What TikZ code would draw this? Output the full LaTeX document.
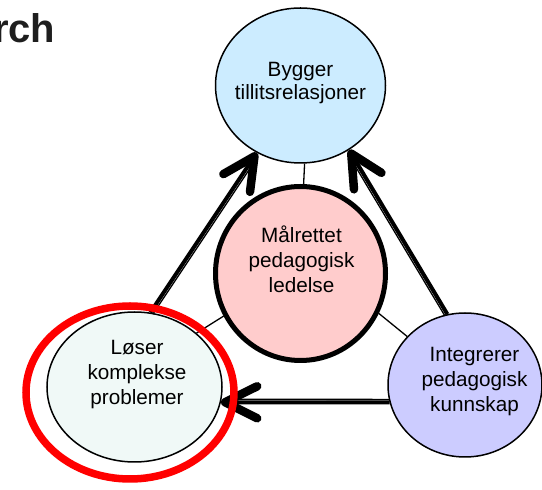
\documentclass[tikz,border=0pt]{standalone}
\usepackage{fontspec}
\setmainfont{Liberation Sans}
\usepackage{tikz}
\usetikzlibrary{shapes.geometric, arrows.meta, calc}

\definecolor{trustblue}{RGB}{204,236,255}
\definecolor{goalpink}{RGB}{255,204,204}
\definecolor{solvemint}{RGB}{240,249,247}
\definecolor{knowviolet}{RGB}{204,204,255}
\definecolor{headgray}{RGB}{30,30,30}

\tikzstyle{bubble} = [ellipse, draw=black, line width=1.5pt, inner sep=0pt]
\tikzstyle{goal} = [bubble, fill=goalpink, line width=5pt, minimum width=170pt, minimum height=174pt]
\tikzstyle{trust} = [bubble, fill=trustblue, minimum width=170pt, minimum height=155pt]
\tikzstyle{solve} = [bubble, fill=solvemint, minimum width=175pt, minimum height=150pt]
\tikzstyle{know} = [bubble, fill=knowviolet, minimum width=154pt, minimum height=144pt]
\tikzstyle{ring} = [ellipse, draw=red, line width=7.5pt, inner sep=0pt, minimum width=208pt, minimum height=173pt]
\tikzstyle{caption} = [align=center, inner sep=0pt, font=\fontsize{20.7}{25}\selectfont]
\tikzstyle{link} = [line width=1.3pt]
\tikzstyle{shaft} = [line width=4pt, -{Straight Barb[length=32pt, width=32pt, line width=8.5pt, round]}]
\tikzstyle{rail} = [line width=1.3pt, shorten >=16pt]

\begin{document}
\begin{tikzpicture}[node distance=188pt]
\useasboundingbox (0,0) rectangle (542pt,490pt);
\fill[white] (0,0) rectangle (542pt,490pt);

\node (head) [anchor=base east, inner sep=0pt, text=headgray, font=\fontsize{40}{48}\selectfont\bfseries] at (55.5pt,447.3pt) {rch};

% circles
\node (mal) [goal] at (300.5pt,216.5pt) {};
\node (byg) [trust, above of=mal] {};
\node (los) [solve, left of=mal, xshift=22pt, yshift=-113.5pt] {};
\node (int) [know, right of=mal, xshift=-23.5pt, yshift=-111.5pt] {};

\node (mal-text) [caption, xshift=1pt, yshift=14.3pt] at (mal) {Målrettet\\pedagogisk\\ledelse};
\node (byg-text) [caption, yshift=2.5pt] at (byg) {Bygger\\[-2pt]tillitsrelasjoner};
\node (los-text) [caption, xshift=2.5pt, yshift=12.2pt] at (los) {Løser\\komplekse\\problemer};
\node (int-text) [caption, xshift=9.5pt, yshift=3.5pt] at (int) {Integrerer\\pedagogisk\\kunnskap};

% thin links to the centre
\draw [link] (byg.273) -- (mal.88);
\draw [link] (mal.209) -- (los.41);
\draw [link] (mal.333) -- (int.140);

% double arrows
\draw [shaft] (los.78) -- (byg.237);
\draw [rail] ($(los.78)!3pt!-90:(byg.237)$) -- ($(byg.237)!3pt!90:(los.78)$);
\draw [shaft] (int.104) -- (byg.307);
\draw [rail] ($(int.104)!3pt!90:(byg.307)$) -- ($(byg.307)!3pt!-90:(int.104)$);
\draw [shaft] (int.193) -- (los.350);
\draw [rail] ($(int.193)!3pt!-90:(los.350)$) -- ($(los.350)!3pt!90:(int.193)$);

\node (mark) [ring, xshift=-4.5pt, yshift=-5.5pt] at (los) {};
\end{tikzpicture}
\end{document}
